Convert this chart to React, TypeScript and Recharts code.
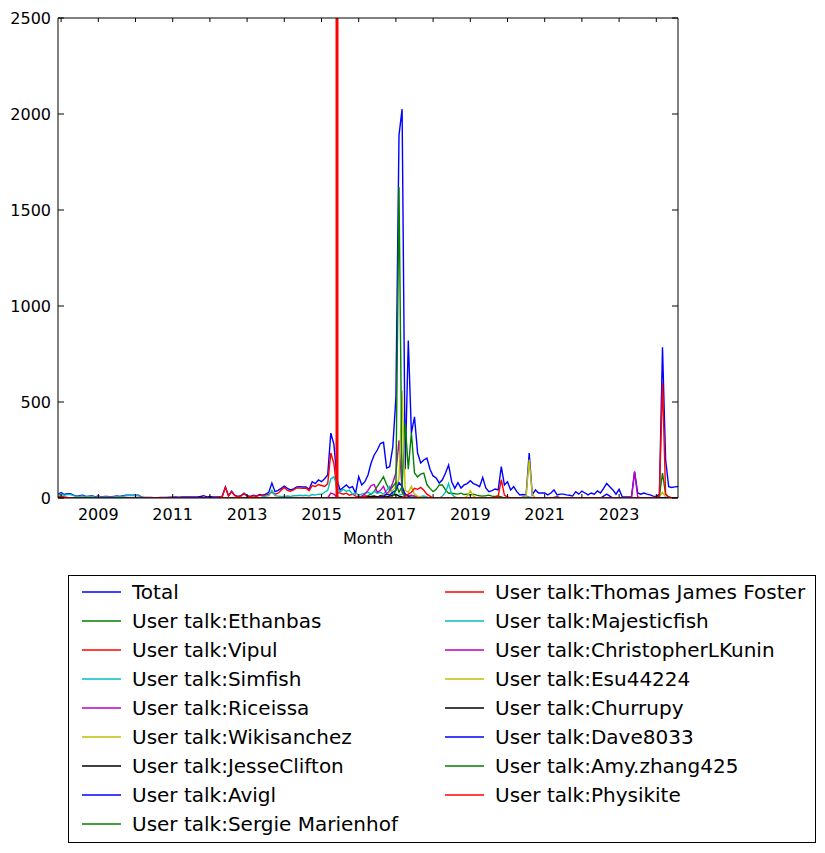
import React from 'react';
import { LineChart, Line, XAxis, YAxis, ReferenceLine } from 'recharts';

// monthly counts, first month Nov 2007, last Jul 2024 (points sit at month end)
const FIRST_YEAR = 2007;
const FIRST_MONTH = 11;

const total = [
  20, 28, 18, 22, 22, 15, 10, 12, 14, 8, 10, 12, 6,
  10, 6, 8, 8, 6, 8, 10, 8, 12, 14, 15, 15,
  14, 14, 4, 3, 3, 3, 2, 2, 3, 3, 3, 4,
  4, 5, 4, 5, 5, 6, 5, 6, 6, 8, 12, 6,
  8, 6, 5, 6, 10, 58, 12, 35, 15, 8, 12, 25,
  12, 8, 14, 10, 18, 15, 20, 30, 78, 33, 40, 50,
  62, 50, 42, 48, 58, 59, 57, 58, 45, 85, 75, 94,
  85, 100, 120, 338, 280, 94, 42, 55, 68, 52, 59, 25,
  111, 68, 85, 120, 182, 224, 250, 284, 290, 156, 163, 267,
  520, 1890, 2025, 150, 820, 338, 423, 234, 182, 198, 208, 150,
  115, 104, 78, 95, 130, 172, 85, 50, 80, 52, 68, 75,
  90, 75, 68, 59, 107, 52, 33, 38, 47, 42, 163, 68,
  85, 42, 59, 33, 16, 18, 16, 234, 16, 42, 26, 26,
  26, 16, 26, 42, 16, 20, 20, 16, 14, 10, 33, 20,
  36, 26, 16, 26, 20, 37, 26, 50, 76, 59, 42, 20,
  45, 7, 5, 5, 5, 137, 26, 20, 26, 20, 16, 10,
  7, 20, 785, 200, 59, 55, 58, 60,
];

// per-user series: [index of first month, values...], zero elsewhere
type Seg = [number, number[]];

const ethanbas: Seg[] = [[98, [5, 8, 12, 20, 35, 60, 85, 111, 70, 40, 60, 80, 30, 60, 390, 150, 340, 130, 110, 125, 130, 70, 50, 33, 45, 68, 68, 42, 25, 25, 22, 20, 25, 18, 20, 15, 20, 15, 12, 10, 12, 15, 10, 8, 10, 5]]];
const vipul: Seg[] = [
  [0, [5, 12, 5, 3]],
  [52, [4, 8, 55, 10, 32, 12, 6, 10, 22, 10, 6, 12, 8, 15, 12, 15, 20, 30, 20, 25, 40, 55, 40, 35, 42, 52, 52, 50, 52, 38, 65, 60, 70, 65, 60, 75, 234, 180, 30, 25, 20, 25, 15, 20, 10, 8, 5, 10, 5]],
];
const simfish: Seg[] = [
  [0, [15, 22, 14, 18, 18, 12, 8, 9, 11, 6, 8, 9, 4, 7, 4, 6, 6, 4, 6, 8, 6, 10, 12, 13, 13, 12, 12, 2]],
  [66, [5, 10, 12, 40, 12, 10, 8, 8, 10, 8, 12, 12, 14, 12, 14, 10, 18, 15, 20, 18, 30, 40, 100, 110, 60, 30, 45, 35, 40, 20, 25, 15, 20, 25, 30, 20, 35, 25, 30, 20, 40, 60, 20, 10, 15, 20, 15, 10, 8, 10, 5, 8, 10, 5]],
];
const riceissa: Seg[] = [[88, [25, 20, 5, 0, 0, 0, 0, 0, 0, 0, 10, 20, 40, 65, 70, 30, 40, 60, 20, 40, 80, 130, 300, 40, 20, 10, 15, 10, 5]]];
const wikisanchez: Seg[] = [[104, [10, 20, 15, 30, 40, 60, 100, 560, 40, 30, 60, 20, 10, 5]]];
const jesseClifton: Seg[] = [[100, [5, 8, 10, 5, 12, 8, 5, 10, 15, 20, 10, 5]]];
const avigl: Seg[] = [[104, [5, 10, 20, 15, 30, 40, 80, 60, 20, 10]]];
const sergie: Seg[] = [[108, [10, 40, 1620, 30, 5]]];
const thomas: Seg[] = [[112, [10, 20, 30, 50, 45, 55, 40, 20, 10]], [141, [5, 10, 95, 15, 5]]];
const majesticfish: Seg[] = [[124, [10, 30, 75, 20, 5]], [150, [5, 10, 5]]];
const kunin: Seg[] = [[185, [5, 137, 5]]];
const esu: Seg[] = [[132, [10, 38, 10]], [151, [10, 200, 20]], [194, [5, 30, 5]]];
const churrupy: Seg[] = [[160, [3, 5, 2]]];
const dave: Seg[] = [[176, [10, 20, 10]]];
const amy: Seg[] = [[193, [5, 10, 130, 20, 5]]];
const physikite: Seg[] = [[193, [5, 10, 600, 20, 5]]];

const yTicks = [0, 500, 1000, 1500, 2000, 2500];
const yearTicks = [2008, 2009, 2010, 2011, 2012, 2013, 2014, 2015, 2016, 2017, 2018, 2019, 2020, 2021, 2022, 2023, 2024];
const markerMonth = 2015 + 5 / 12; // red line, end of May 2015

const months = total.map((_, i) => {
  const m0 = FIRST_MONTH - 1 + i;
  return { year: FIRST_YEAR + Math.floor(m0 / 12), month: (m0 % 12) + 1 };
});

function expand(segs: Seg[]) {
  const out = total.map(() => 0);
  segs.forEach(([start, vals]) => vals.forEach((v, k) => { out[start + k] = v; }));
  return out;
}

const series = [
  { key: 'total', name: 'Total', color: '#0000ff', values: total },
  { key: 'ethanbas', name: 'User talk:Ethanbas', color: '#008000', values: expand(ethanbas) },
  { key: 'vipul', name: 'User talk:Vipul', color: '#ff0000', values: expand(vipul) },
  { key: 'simfish', name: 'User talk:Simfish', color: '#00bfbf', values: expand(simfish) },
  { key: 'riceissa', name: 'User talk:Riceissa', color: '#bf00bf', values: expand(riceissa) },
  { key: 'wikisanchez', name: 'User talk:Wikisanchez', color: '#bfbf00', values: expand(wikisanchez) },
  { key: 'jesse', name: 'User talk:JesseClifton', color: '#000000', values: expand(jesseClifton) },
  { key: 'avigl', name: 'User talk:Avigl', color: '#0000ff', values: expand(avigl) },
  { key: 'sergie', name: 'User talk:Sergie Marienhof', color: '#008000', values: expand(sergie) },
  { key: 'thomas', name: 'User talk:Thomas James Foster', color: '#ff0000', values: expand(thomas) },
  { key: 'majestic', name: 'User talk:Majesticfish', color: '#00bfbf', values: expand(majesticfish) },
  { key: 'kunin', name: 'User talk:ChristopherLKunin', color: '#bf00bf', values: expand(kunin) },
  { key: 'esu', name: 'User talk:Esu44224', color: '#bfbf00', values: expand(esu) },
  { key: 'churrupy', name: 'User talk:Churrupy', color: '#000000', values: expand(churrupy) },
  { key: 'dave', name: 'User talk:Dave8033', color: '#0000ff', values: expand(dave) },
  { key: 'amy', name: 'User talk:Amy.zhang425', color: '#008000', values: expand(amy) },
  { key: 'physikite', name: 'User talk:Physikite', color: '#ff0000', values: expand(physikite) },
];

const data = months.map((m, i) => {
  const row: Record<string, number> = { t: m.year + m.month / 12 };
  series.forEach((s) => { row[s.key] = s.values[i]; });
  return row;
});

const FONT = 'DejaVu Sans';
const LINE_W = 1.4;
const tStart = data[0].t;
const tEnd = data[data.length - 1].t;

const BottomTick = ({ x, y, payload }: any) => (
  <g>
    <line x1={x} x2={x} y1={y} y2={y - 4} stroke="#000" />
    {payload.value % 2 === 1 && (
      <text x={x} y={y + 16} textAnchor="middle" dominantBaseline="central" fontSize={16} fontFamily={FONT} fill="#000">
        {payload.value}
      </text>
    )}
  </g>
);
const TopTick = ({ x, y }: any) => <line x1={x} x2={x} y1={y} y2={y + 4} stroke="#000" />;
const LeftTick = ({ x, y, payload }: any) => (
  <g>
    <line x1={x} x2={x + 6} y1={y} y2={y} stroke="#000" />
    <text x={x - 7} y={y} textAnchor="end" dominantBaseline="central" fontSize={16} fontFamily={FONT} fill="#000">
      {payload.value}
    </text>
  </g>
);
const RightTick = ({ x, y }: any) => <line x1={x} x2={x - 6} y1={y} y2={y} stroke="#000" />;

function LegendBox() {
  return (
    <div style={{ position: 'absolute', left: 60, top: 567, width: 748, height: 268, boxSizing: 'border-box', border: '1px solid #000', background: '#fff', fontFamily: FONT, fontSize: 20 }}>
      {series.map((s, i) => {
        const col = i < 9 ? 0 : 1;
        const row = i < 9 ? i : i - 9;
        const left = col === 0 ? 13 : 376;
        return (
          <div key={s.key} style={{ position: 'absolute', left, top: 16 + row * 29 - 12, height: 24, display: 'flex', alignItems: 'center', whiteSpace: 'nowrap' }}>
            <svg width={40} height={24} style={{ display: 'block' }}>
              <line x1={0} x2={39} y1={12} y2={12} stroke={s.color} strokeWidth={LINE_W} />
            </svg>
            <span style={{ marginLeft: 10, lineHeight: '24px' }}>{s.name}</span>
          </div>
        );
      })}
    </div>
  );
}

export default function App() {
  return (
    <div style={{ position: 'relative', width: 809, height: 837, background: '#fff' }}>
      <LineChart width={809} height={545} data={data} margin={{ top: 9, right: 138, bottom: 0, left: 0 }}>
        <XAxis
          dataKey="t"
          type="number"
          domain={[tStart, tEnd]}
          allowDataOverflow
          ticks={yearTicks}
          interval={0}
          height={55}
          tickSize={0}
          tickMargin={0}
          tickLine={false}
          axisLine={{ stroke: '#000' }}
          tick={<BottomTick />}
          label={(p: any) => (
            <text x={p.viewBox.x + p.viewBox.width / 2} y={p.viewBox.y + 40} textAnchor="middle" dominantBaseline="central" fontSize={16} fontFamily={FONT} fill="#000">
              Month
            </text>
          )}
        />
        <XAxis
          xAxisId="top"
          orientation="top"
          dataKey="t"
          type="number"
          domain={[tStart, tEnd]}
          allowDataOverflow
          ticks={yearTicks}
          interval={0}
          height={1}
          tickSize={0}
          tickMargin={0}
          tickLine={false}
          axisLine={{ stroke: '#000' }}
          tick={<TopTick />}
        />
        <YAxis
          domain={[0, 2500]}
          allowDataOverflow
          ticks={yTicks}
          interval={0}
          width={50}
          tickSize={0}
          tickMargin={0}
          tickLine={false}
          axisLine={{ stroke: '#000' }}
          tick={<LeftTick />}
        />
        <YAxis
          yAxisId="right"
          orientation="right"
          domain={[0, 2500]}
          allowDataOverflow
          ticks={yTicks}
          interval={0}
          width={1}
          tickSize={0}
          tickMargin={0}
          tickLine={false}
          axisLine={{ stroke: '#000' }}
          tick={<RightTick />}
        />
        {series.map((s) => (
          <Line
            key={s.key}
            type="linear"
            dataKey={s.key}
            name={s.name}
            stroke={s.color}
            strokeWidth={LINE_W}
            dot={false}
            activeDot={false}
            isAnimationActive={false}
          />
        ))}
        {/* invisible series so the top/right frame axes get a domain */}
        <Line xAxisId="top" yAxisId="right" dataKey="total" stroke="none" dot={false} activeDot={false} legendType="none" isAnimationActive={false} />
        <ReferenceLine x={markerMonth} stroke="#ff0000" strokeWidth={3} />
      </LineChart>
      <LegendBox />
    </div>
  );
}
